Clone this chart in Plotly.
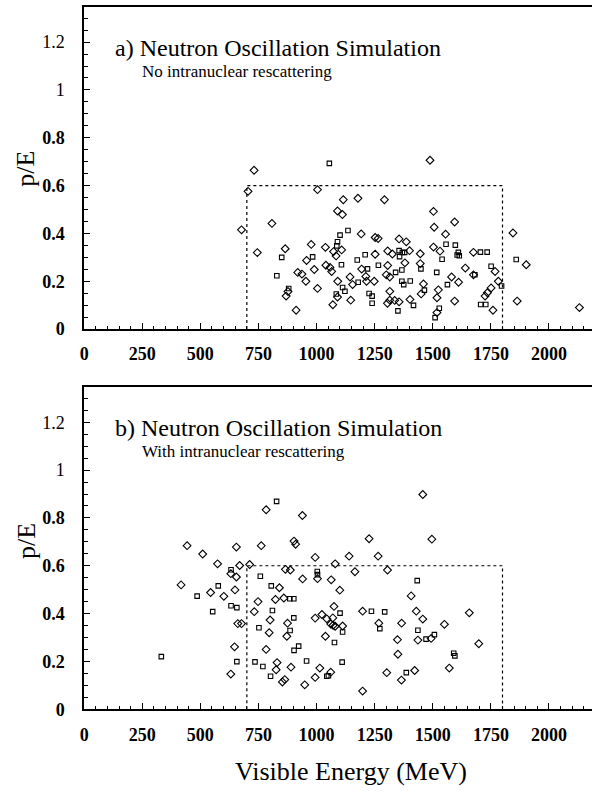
import plotly.graph_objects as go

# ---------------- data ----------------
# Panel a) : No intranuclear rescattering
A_DIAMOND_E = [731, 705, 1004, 677, 808, 745, 1115, 1178, 1292, 1090, 1111, 1192, 1252, 1265,
               1355, 1386, 1073, 1108, 1084, 1038, 977, 865, 957, 990, 1040, 1058, 1065, 919,
               937, 954, 877, 869, 1004, 912, 1090, 1070, 1091, 1147, 1144, 1155, 1212, 1194,
               1252, 1215, 1248, 1306, 1326, 1306, 1300, 1315, 1380, 1315, 1315, 1305, 1336,
               1355, 1402, 1488, 1503, 1506, 1594, 1555, 1503, 1531, 1446, 1400, 1446, 1460,
               1450, 1524, 1518, 1518, 1581, 1611, 1594, 1640, 1675, 1675, 1768, 1782, 1751,
               1735, 1725, 1759, 1845, 1902, 1863, 2131]
A_DIAMOND_PE = [0.664, 0.576, 0.583, 0.415, 0.442, 0.320, 0.541, 0.547, 0.541, 0.494, 0.479, 0.398,
                0.383, 0.379, 0.377, 0.365, 0.324, 0.331, 0.306, 0.342, 0.354, 0.336, 0.287, 0.249,
                0.267, 0.258, 0.241, 0.237, 0.230, 0.200, 0.157, 0.138, 0.170, 0.079, 0.134, 0.102,
                0.200, 0.121, 0.218, 0.186, 0.220, 0.251, 0.313, 0.200, 0.200, 0.327, 0.314, 0.266,
                0.227, 0.218, 0.277, 0.158, 0.121, 0.108, 0.120, 0.114, 0.124, 0.706, 0.492, 0.426,
                0.448, 0.397, 0.343, 0.326, 0.315, 0.328, 0.274, 0.189, 0.147, 0.164, 0.131, 0.069,
                0.218, 0.196, 0.117, 0.255, 0.227, 0.321, 0.241, 0.200, 0.172, 0.152, 0.138, 0.079,
                0.402, 0.269, 0.117, 0.090]
A_SQUARE_E = [1055, 1101, 1135, 1090, 1087, 850, 983, 1107, 829, 880, 1085, 1122, 1112, 1179,
              1219, 1175, 1209, 1266, 1226, 1239, 1239, 1355, 1357, 1369, 1379, 1340, 1367, 1350,
              1367, 1375, 1557, 1597, 1540, 1610, 1614, 1605, 1403, 1417, 1449, 1464, 1517, 1528,
              1510, 1563, 1681, 1705, 1734, 1751, 1796, 1706, 1728, 1859]
A_SQUARE_PE = [0.693, 0.393, 0.412, 0.365, 0.348, 0.300, 0.302, 0.269, 0.223, 0.170, 0.147, 0.158,
               0.174, 0.196, 0.252, 0.289, 0.311, 0.267, 0.149, 0.138, 0.108, 0.328, 0.303, 0.320,
               0.321, 0.237, 0.247, 0.076, 0.200, 0.186, 0.355, 0.351, 0.292, 0.321, 0.307, 0.310,
               0.201, 0.099, 0.252, 0.163, 0.237, 0.087, 0.048, 0.186, 0.227, 0.322, 0.322, 0.263,
               0.180, 0.103, 0.103, 0.291]

# Panel b) : With intranuclear rescattering
B_DIAMOND_E = [783, 939, 443, 510, 655, 762, 903, 910, 994, 574, 669, 712, 631, 655, 866, 887,
               1004, 940, 1063, 1080, 417, 544, 601, 649, 661, 677, 647, 631, 840, 823, 859, 748,
               732, 800, 875, 796, 872, 783, 830, 826, 863, 853, 890, 949, 994, 1023, 1044, 1070,
               1061, 1071, 1080, 1075, 1100, 1038, 1014, 994, 1061,
               1457, 1226, 1496, 1140, 1265, 1165, 1305, 1407, 1112, 1198, 1268, 1366, 1429, 1457,
               1348, 1436, 1493, 1550, 1657, 1698, 1350, 1571, 1302, 1422, 1365, 1198]
B_DIAMOND_PE = [0.834, 0.810, 0.684, 0.649, 0.678, 0.684, 0.703, 0.690, 0.635, 0.608, 0.601, 0.605,
                0.567, 0.553, 0.585, 0.582, 0.546, 0.545, 0.541, 0.608, 0.520, 0.488, 0.472, 0.499,
                0.358, 0.358, 0.261, 0.147, 0.508, 0.459, 0.465, 0.450, 0.408, 0.373, 0.360, 0.320,
                0.305, 0.250, 0.195, 0.165, 0.124, 0.114, 0.176, 0.102, 0.381, 0.396, 0.378, 0.382,
                0.356, 0.351, 0.347, 0.430, 0.498, 0.305, 0.172, 0.133, 0.155,
                0.898, 0.713, 0.711, 0.640, 0.640, 0.575, 0.582, 0.474, 0.348, 0.410, 0.360, 0.360,
                0.410, 0.377, 0.291, 0.289, 0.296, 0.355, 0.403, 0.274, 0.230, 0.172, 0.153, 0.162,
                0.122, 0.076]
B_SQUARE_E = [828, 632, 758, 1003, 1004, 577, 486, 553, 632, 657, 657, 332, 805, 885, 902, 810,
              902, 752, 886, 903, 923, 735, 769, 802, 957, 1101, 1077, 1044, 1051, 1110,
              1433, 1112, 1236, 1293, 1272, 1436, 1471, 1507, 1590, 1595, 1386]
B_SQUARE_PE = [0.869, 0.583, 0.556, 0.576, 0.563, 0.516, 0.473, 0.408, 0.433, 0.425, 0.199, 0.220,
               0.516, 0.462, 0.462, 0.413, 0.382, 0.341, 0.329, 0.246, 0.264, 0.198, 0.179, 0.138,
               0.202, 0.402, 0.279, 0.138, 0.140, 0.197,
               0.538, 0.323, 0.410, 0.407, 0.337, 0.330, 0.293, 0.312, 0.234, 0.223, 0.153]

# signal box (cuts)
E_MIN, E_MAX, PE_MAX = 700, 1800, 0.6

X_TICKS = [0, 250, 500, 750, 1000, 1250, 1500, 1750, 2000]
Y_TICKS = [0, 0.2, 0.4, 0.6, 0.8, 1.0, 1.2]
Y_TICK_TEXT = ["<b>0</b>", "<b>0.2</b>", "<b>0.4</b>", "<b>0.6</b>", "<b>0.8</b>", "1", "1.2"]

TITLES = ["a) Neutron Oscillation Simulation", "b) Neutron Oscillation Simulation"]
SUBTITLES = ["No intranuclear rescattering", "With intranuclear rescattering"]

# ---------------- layout geometry (pixels) ----------------
W, H = 592, 792
FONT = "Liberation Serif"
AX_LEFT = 80.7
PX_PER_MEV = 0.234
X_MAX = (W - AX_LEFT) / PX_PER_MEV
Y_MAX = 1.346
panels = [dict(top=7.3, bottom=333.3), dict(top=392.3, bottom=718.3)]


def py(y):
    return 1 - y / H


def px(x):
    return x / W


fig = go.Figure()
data_sets = [(A_DIAMOND_E, A_DIAMOND_PE, A_SQUARE_E, A_SQUARE_PE),
             (B_DIAMOND_E, B_DIAMOND_PE, B_SQUARE_E, B_SQUARE_PE)]

for i, (de, dp, se, sp) in enumerate(data_sets):
    xa = "x" if i == 0 else "x2"
    ya = "y" if i == 0 else "y2"
    fig.add_trace(go.Scatter(x=de, y=dp, mode="markers", xaxis=xa, yaxis=ya,
                             marker=dict(symbol="diamond-open", size=6, color="black",
                                         line=dict(width=1.1, color="black")),
                             showlegend=False, hoverinfo="skip"))
    fig.add_trace(go.Scatter(x=se, y=sp, mode="markers", xaxis=xa, yaxis=ya,
                             marker=dict(symbol="square-open", size=4.5, color="black",
                                         line=dict(width=1.1, color="black")),
                             showlegend=False, hoverinfo="skip"))
    # signal box
    fig.add_shape(type="path", xref=xa, yref=ya,
                  path=f"M {E_MIN} 0 L {E_MIN} {PE_MAX} L {E_MAX} {PE_MAX} L {E_MAX} 0",
                  line=dict(color="black", width=1.2, dash="dot"))

xaxis_common = dict(range=[0, X_MAX], domain=[px(AX_LEFT), 1], showgrid=False, zeroline=False,
                    showline=True, linecolor="black", linewidth=1.6, mirror=True,
                    ticks="inside", ticklen=6, tickwidth=1.2, tickcolor="black",
                    tickvals=X_TICKS, ticktext=[f"<b>{v}</b>" for v in X_TICKS],
                    tickfont=dict(family=FONT, size=18, color="black"), ticklabelstandoff=8,
                    minor=dict(dtick=50, tick0=0, ticks="inside", ticklen=3, tickwidth=1,
                               tickcolor="black"),
                    fixedrange=True)
yaxis_common = dict(range=[0, Y_MAX], showgrid=False, zeroline=False,
                    showline=True, linecolor="black", linewidth=1.6, mirror=False,
                    ticks="inside", ticklen=6, tickwidth=1.2, tickcolor="black",
                    tickvals=Y_TICKS, ticktext=Y_TICK_TEXT,
                    tickfont=dict(family=FONT, size=18, color="black"), ticklabelstandoff=14,
                    minor=dict(dtick=0.05, tick0=0, ticks="inside", ticklen=4, tickwidth=1,
                               tickcolor="black"),
                    fixedrange=True)

fig.update_layout(
    width=W, height=H, margin=dict(l=0, r=0, t=0, b=0),
    paper_bgcolor="white", plot_bgcolor="white",
    font=dict(family=FONT, color="black"),
    xaxis=dict(xaxis_common, anchor="y"),
    yaxis=dict(yaxis_common, anchor="x",
               domain=[py(panels[0]["bottom"]), py(panels[0]["top"])]),
    xaxis2=dict(xaxis_common, anchor="y2"),
    yaxis2=dict(yaxis_common, anchor="x2",
                domain=[py(panels[1]["bottom"]), py(panels[1]["top"])]),
)

annotations = []
for i, p in enumerate(panels):
    annotations.append(dict(text=TITLES[i], xref="paper", yref="paper",
                            x=px(110), y=py(p["top"] + 41), xanchor="left", yanchor="middle",
                            showarrow=False, font=dict(family=FONT, size=24, color="black")))
    annotations.append(dict(text=SUBTITLES[i], xref="paper", yref="paper",
                            x=px(137), y=py(p["top"] + 65), xanchor="left", yanchor="middle",
                            showarrow=False, font=dict(family=FONT, size=17, color="black")))
annotations.append(dict(text="p/E", xref="paper", yref="paper", x=px(22), y=py(171),
                        xanchor="center", yanchor="middle", textangle=-90, showarrow=False,
                        font=dict(family=FONT, size=26, color="black")))
annotations.append(dict(text="p/E", xref="paper", yref="paper", x=px(22), y=py(548),
                        xanchor="center", yanchor="middle", textangle=-90, showarrow=False,
                        font=dict(family=FONT, size=26, color="black")))
annotations.append(dict(text="Visible Energy (MeV)", xref="paper", yref="paper",
                        x=px(349), y=py(781), xanchor="center", yanchor="middle",
                        showarrow=False, font=dict(family=FONT, size=26, color="black")))
fig.update_layout(annotations=annotations)

fig.write_html("out.html", config={"displayModeBar": False})
